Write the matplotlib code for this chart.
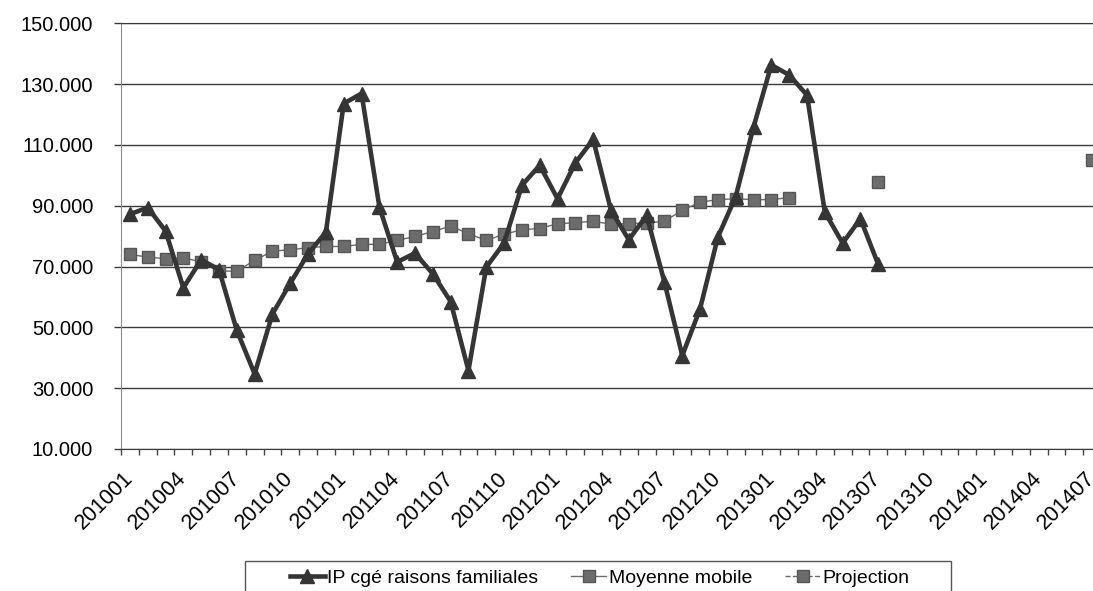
import matplotlib
matplotlib.use("Agg")
import matplotlib.pyplot as plt
from matplotlib.patches import Rectangle
from matplotlib.ticker import FixedLocator, FuncFormatter
import numpy as np

plt.rcParams['font.family'] = ['Liberation Sans', 'DejaVu Sans']

months = ["201001", "201002", "201003", "201004", "201005", "201006",
          "201007", "201008", "201009", "201010", "201011", "201012",
          "201101", "201102", "201103", "201104", "201105", "201106",
          "201107", "201108", "201109", "201110", "201111", "201112",
          "201201", "201202", "201203", "201204", "201205", "201206",
          "201207", "201208", "201209", "201210", "201211", "201212",
          "201301", "201302", "201303", "201304", "201305", "201306",
          "201307", "201308", "201309", "201310", "201311", "201312",
          "201401", "201402", "201403", "201404", "201405", "201406",
          "201407"]

# values in thousands
ip_conge = [87.2, 89.4, 81.7, 63.0, 72.2, 69.0, 49.0, 34.7, 54.4, 64.5,
            74.2, 81.3, 123.6, 126.9, 89.6, 71.5, 74.4, 67.6, 58.5, 35.8,
            69.8, 77.7, 96.7, 103.3, 92.3, 104.1, 111.8, 88.5, 78.8, 86.8,
            64.9, 40.7, 56.1, 79.7, 93.0, 115.9, 136.3, 133.0, 126.4, 87.9,
            77.7, 85.7, 70.7]

moyenne_mobile = [74.0, 73.1, 72.6, 72.9, 71.5, 68.5, 68.5, 72.0, 75.1, 75.5,
                  76.2, 76.6, 76.6, 77.3, 77.3, 78.6, 79.9, 81.5, 83.3, 80.8,
                  78.6, 80.6, 82.1, 82.5, 84.1, 84.4, 84.9, 83.9, 84.1, 84.3,
                  84.9, 88.5, 91.2, 92.0, 92.3, 92.0, 92.0, 92.7]

projection_months = ["201307", "201407"]
projection = [97.8, 105.0]

y_ticks = [10, 30, 50, 70, 90, 110, 130, 150]

dark = "#353535"
grey = "#6c6c6c"

fig = plt.figure(figsize=(10.93, 5.91), dpi=100)
ax = fig.add_axes([0.1107, 0.2403, 0.8966, 0.7203])

x = np.arange(len(months))

# projection only exists for a few months, gaps elsewhere
proj_y = np.full(len(months), np.nan)
for m, v in zip(projection_months, projection):
    proj_y[months.index(m)] = v

ax.plot(x[:len(ip_conge)], ip_conge, color=dark, linewidth=3.3, marker='^',
        markersize=9.5, markerfacecolor=dark, markeredgecolor=dark,
        label='IP cgé raisons familiales', zorder=4)
ax.plot(x[:len(moyenne_mobile)], moyenne_mobile, color=grey, linewidth=1.0,
        marker='s', markersize=8, markerfacecolor=grey, markeredgecolor="#555555",
        label='Moyenne mobile', zorder=3)
ax.plot(x, proj_y, color=grey, linewidth=1.0, linestyle='--', marker='s',
        markersize=8, markerfacecolor=grey, markeredgecolor="#555555",
        label='Projection', zorder=3)

ax.set_xlim(-0.5, len(months) - 0.5)
ax.set_ylim(10, 150)

ax.set_yticks(y_ticks)
ax.yaxis.set_major_formatter(FuncFormatter(
    lambda v, p: f"{v * 1000:,.0f}".replace(",", ".")))
ax.grid(axis='y', color="#3a3a3a", linewidth=1.0)
ax.set_axisbelow(True)

label_pos = x[::3]
ax.xaxis.set_major_locator(FixedLocator(label_pos))
ax.set_xticklabels([months[i] for i in label_pos], rotation=45,
                   ha='right', rotation_mode='anchor', va='center')
ax.xaxis.set_minor_locator(FixedLocator(np.arange(-0.5, len(months), 1.0)))
ax.tick_params(axis='x', which='major', length=0, pad=19, labelsize=15.5)
ax.tick_params(axis='x', which='minor', length=4.5, width=1, color="#444444")
ax.tick_params(axis='y', length=5, width=1, color="#3a3a3a", pad=15,
               labelsize=14.5)

ax.spines['right'].set_visible(False)
ax.spines['top'].set_color("#3a3a3a")
ax.spines['left'].set_color("#8a8a8a")
ax.spines['bottom'].set_color("#3a3a3a")

# legend box runs past the bottom of the page
fig.add_artist(Rectangle((0.2242, -0.03), 0.646, 0.0808, transform=fig.transFigure,
                         fill=False, edgecolor="#555555", linewidth=1.0))
fig.legend(loc='center left', bbox_to_anchor=(0.2653, 0.022), ncol=3,
           fontsize=14, frameon=False, handlelength=1.8, columnspacing=1.7,
           borderpad=0, handletextpad=0.12, borderaxespad=0)

fig.savefig("out.png", dpi=100)
